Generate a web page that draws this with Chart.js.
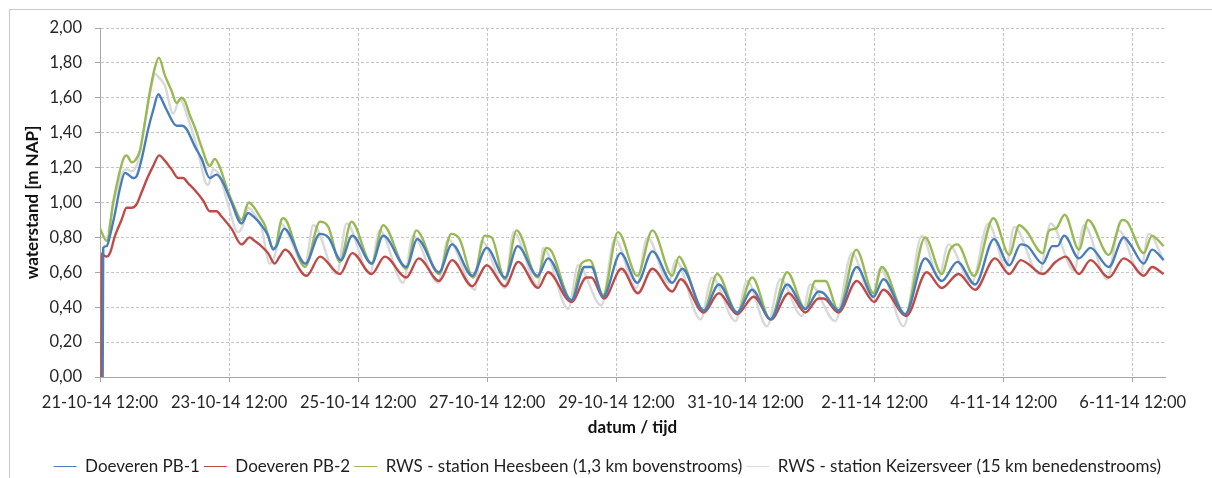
<!DOCTYPE html>
<html>
<head>
<meta charset="utf-8">
<title>waterstand Doeveren</title>
<script src="https://cdn.jsdelivr.net/npm/chart.js@4.4.1/dist/chart.umd.min.js"></script>
<style>
    html, body { margin: 0; padding: 0; background: #fff; overflow: hidden; }
    #frame { position: absolute; left: 9px; top: 9px; width: 1230px; height: 500px; border: 1px solid #c8c8c8; }
    #chart { position: absolute; left: 0; top: 0; }
</style>
</head>
<body>
<div id="frame"></div>
<canvas id="chart" width="1212" height="485"></canvas>
<script>
// x = uren sinds 21-10-14 12:00, y = waterstand [m NAP]
const xTickHours = [0, 48, 96, 144, 192, 240, 288, 336, 384];
const xTickLabels = ['21-10-14 12:00', '23-10-14 12:00', '25-10-14 12:00', '27-10-14 12:00', '29-10-14 12:00',
                     '31-10-14 12:00', '2-11-14 12:00', '4-11-14 12:00', '6-11-14 12:00'];
const yTickValues = [0, 0.2, 0.4, 0.6, 0.8, 1.0, 1.2, 1.4, 1.6, 1.8, 2.0];

const doeveren1 = [
    [1.0, 0], [1.2, 0.74], [2.5, 0.75], [3.7, 0.81], [5.6, 0.94], [7.4, 1.08], [9.3, 1.17], [10.5, 1.16],
    [12.4, 1.14], [13.6, 1.15], [15.5, 1.25], [17.9, 1.42], [19.8, 1.53], [21.7, 1.62], [22.3, 1.61],
    [24.8, 1.53], [28.5, 1.44], [30.6, 1.44], [32.2, 1.42], [35.3, 1.32], [37.8, 1.25], [40.8, 1.14],
    [43.3, 1.16], [45.2, 1.13], [48.9, 1.00], [52.6, 0.88], [55.1, 0.94], [57.0, 0.92], [60.0, 0.87],
    [62.5, 0.81], [64.4, 0.73], [65.6, 0.75], [68.5, 0.85], [76.4, 0.65], [81.8, 0.82], [84.9, 0.80],
    [89.6, 0.67], [93.8, 0.81], [101.0, 0.65], [105.3, 0.81], [113.9, 0.63], [118.0, 0.79], [126.0, 0.60],
    [130.9, 0.76], [138.4, 0.58], [143.8, 0.74], [150.6, 0.57], [155.3, 0.75], [162.7, 0.58], [166.6, 0.68],
    [175.3, 0.44], [180.2, 0.63], [182.7, 0.63], [187.1, 0.46], [193.6, 0.71], [199.8, 0.54], [205.4, 0.72],
    [212.8, 0.54], [216.5, 0.62], [224.5, 0.38], [230.1, 0.53], [236.9, 0.37], [242.5, 0.50], [249.3, 0.33],
    [255.5, 0.53], [262.3, 0.39], [267.2, 0.49], [269.1, 0.48], [274.6, 0.38], [281.4, 0.63], [287.6, 0.46],
    [291.3, 0.56], [299.4, 0.36], [306.8, 0.68], [313.0, 0.55], [318.8, 0.66], [325.4, 0.53], [332.4, 0.79],
    [338.1, 0.64], [342.4, 0.76], [344.9, 0.75], [350.5, 0.65], [354.1, 0.75], [356.0, 0.75], [358.5, 0.81],
    [364.0, 0.68], [368.3, 0.74], [375.1, 0.63], [380.7, 0.80], [383.1, 0.76], [388.1, 0.65], [391.2, 0.73],
    [395.5, 0.67]
];

const doeveren2 = [
    [0.5, 0], [0.7, 0.71], [1.2, 0.70], [2.5, 0.69], [3.7, 0.71], [5.6, 0.81], [8.0, 0.90], [9.9, 0.97],
    [11.8, 0.97], [13.6, 0.99], [15.5, 1.06], [17.9, 1.15], [19.8, 1.21], [22.0, 1.27], [24.1, 1.24],
    [26.6, 1.19], [29.1, 1.14], [30.9, 1.14], [32.8, 1.11], [35.3, 1.07], [38.4, 1.01], [40.8, 0.95],
    [43.3, 0.95], [45.2, 0.92], [48.9, 0.85], [52.6, 0.76], [55.7, 0.80], [57.5, 0.78], [60.0, 0.75],
    [62.5, 0.71], [64.9, 0.65], [66.8, 0.69], [68.8, 0.73], [76.8, 0.58], [81.8, 0.69], [89.2, 0.59],
    [93.8, 0.71], [101.0, 0.59], [105.9, 0.69], [113.9, 0.57], [118.5, 0.68], [126.1, 0.55], [130.9, 0.67],
    [138.4, 0.52], [143.8, 0.64], [150.6, 0.52], [155.5, 0.66], [162.9, 0.51], [166.6, 0.60], [175.3, 0.43],
    [180.9, 0.57], [182.7, 0.57], [187.4, 0.45], [193.9, 0.62], [200.0, 0.48], [205.4, 0.62], [212.8, 0.49],
    [215.9, 0.56], [224.5, 0.37], [230.1, 0.48], [236.9, 0.36], [243.1, 0.46], [249.5, 0.33], [256.1, 0.48],
    [262.3, 0.37], [267.2, 0.45], [269.1, 0.45], [274.6, 0.37], [281.4, 0.55], [287.9, 0.43], [291.3, 0.50],
    [299.8, 0.35], [307.4, 0.60], [313.0, 0.51], [319.2, 0.59], [325.4, 0.50], [332.8, 0.68], [338.1, 0.59],
    [342.4, 0.67], [344.9, 0.65], [350.5, 0.59], [355.4, 0.66], [359.1, 0.69], [364.0, 0.59], [368.3, 0.67],
    [375.1, 0.57], [380.7, 0.68], [383.1, 0.66], [388.1, 0.58], [391.2, 0.63], [395.5, 0.59]
];

const heesbeen = [
    [0, 0.85], [2.5, 0.78], [5.0, 1.01], [8.7, 1.25], [9.9, 1.27], [11.8, 1.23], [13.0, 1.24], [14.9, 1.30],
    [16.7, 1.46], [18.6, 1.64], [20.2, 1.76], [21.9, 1.83], [24.1, 1.73], [26.6, 1.64], [28.5, 1.57],
    [30.3, 1.60], [31.6, 1.58], [33.4, 1.50], [35.3, 1.43], [37.7, 1.32], [40.8, 1.21], [42.7, 1.25],
    [44.6, 1.20], [47.0, 1.09], [50.1, 0.97], [52.6, 0.90], [55.3, 1.00], [56.9, 0.98], [59.4, 0.92],
    [61.3, 0.87], [64.4, 0.74], [65.0, 0.74], [67.4, 0.90], [68.2, 0.91], [76.2, 0.63], [81.8, 0.89],
    [84.9, 0.86], [89.2, 0.66], [93.5, 0.89], [101.0, 0.65], [105.3, 0.87], [113.9, 0.62], [117.6, 0.84],
    [126.1, 0.59], [130.6, 0.82], [133.7, 0.79], [138.8, 0.57], [143.1, 0.81], [145.6, 0.80], [150.6, 0.56],
    [154.9, 0.84], [162.7, 0.57], [166.0, 0.74], [167.9, 0.72], [175.3, 0.44], [179.0, 0.65], [182.1, 0.67],
    [187.1, 0.47], [192.6, 0.83], [199.8, 0.58], [205.4, 0.84], [212.8, 0.58], [215.3, 0.69], [217.1, 0.65],
    [224.5, 0.38], [229.5, 0.59], [236.9, 0.37], [242.5, 0.57], [249.3, 0.33], [255.5, 0.60], [262.3, 0.39],
    [266.0, 0.55], [269.7, 0.55], [274.6, 0.38], [281.2, 0.73], [287.6, 0.48], [290.7, 0.63], [299.4, 0.36],
    [306.8, 0.80], [313.0, 0.59], [316.1, 0.73], [318.8, 0.76], [325.0, 0.58], [332.2, 0.91], [338.1, 0.70],
    [341.8, 0.87], [344.3, 0.84], [350.5, 0.71], [352.9, 0.84], [355.4, 0.85], [358.7, 0.93], [364.0, 0.73],
    [367.4, 0.90], [375.1, 0.70], [380.1, 0.90], [381.9, 0.89], [388.1, 0.71], [391.2, 0.81], [393.0, 0.79],
    [395.5, 0.75]
];

const keizersveer = [
    [3.1, 0.83], [5.0, 0.99], [8.0, 1.16], [9.9, 1.19], [11.8, 1.18], [14.2, 1.24], [16.7, 1.46], [19.2, 1.67],
    [20.4, 1.74], [21.7, 1.72], [24.1, 1.67], [27.2, 1.51], [29.7, 1.59], [32.8, 1.48], [36.5, 1.29],
    [38.9, 1.13], [40.2, 1.10], [42.1, 1.19], [44.6, 1.15], [47.6, 0.99], [51.3, 0.83], [53.2, 0.87],
    [55.1, 0.97], [57.5, 0.93], [60.0, 0.86], [63.1, 0.65], [65.6, 0.73], [67.0, 0.88], [76.2, 0.64],
    [79.3, 0.87], [88.0, 0.59], [91.7, 0.88], [100.3, 0.59], [104.0, 0.84], [112.7, 0.54], [116.4, 0.81],
    [125.7, 0.54], [129.4, 0.79], [139.4, 0.50], [141.9, 0.78], [150.6, 0.51], [153.7, 0.83], [162.9, 0.52],
    [164.8, 0.74], [174.1, 0.39], [177.8, 0.64], [186.4, 0.41], [191.4, 0.79], [199.4, 0.51], [203.5, 0.80],
    [211.5, 0.54], [214.0, 0.67], [223.3, 0.33], [227.6, 0.57], [236.3, 0.32], [240.6, 0.55], [248.0, 0.29],
    [253.0, 0.56], [261.0, 0.35], [264.1, 0.53], [273.4, 0.32], [279.6, 0.71], [287.0, 0.45], [290.1, 0.62],
    [298.8, 0.29], [305.6, 0.81], [311.8, 0.57], [315.5, 0.76], [324.1, 0.54], [330.3, 0.88], [336.9, 0.63],
    [339.9, 0.86], [349.2, 0.59], [353.5, 0.88], [362.2, 0.61], [365.9, 0.87], [374.5, 0.56], [378.8, 0.84],
    [386.8, 0.59], [389.9, 0.82], [395.5, 0.67]
];

const toXY = rows => rows.map(([h, v]) => ({ x: h, y: v }));

Chart.defaults.font.family = 'Lato, "Open Sans", sans-serif';
Chart.defaults.color = '#404040';

const axisGrey = '#a6a6a6';
const gridGrey = '#c4c4c4';

new Chart(document.getElementById('chart'), {
    type: 'line',
    data: {
        datasets: [
            { label: 'Doeveren PB-1', data: toXY(doeveren1), borderColor: '#4a7ebb' },
            { label: 'Doeveren PB-2', data: toXY(doeveren2), borderColor: '#be4b48' },
            { label: 'RWS - station Heesbeen (1,3 km bovenstrooms)', data: toXY(heesbeen), borderColor: '#98b954' },
            { label: 'RWS - station Keizersveer (15 km benedenstrooms)', data: toXY(keizersveer), borderColor: '#d9d9d9' }
        ]
    },
    options: {
        responsive: false,
        animation: false,
        layout: { padding: { top: 28, right: 47, left: 0, bottom: 0 } },
        elements: {
            point: { radius: 0 },
            line: { borderWidth: 2.4, cubicInterpolationMode: 'monotone', fill: false }
        },
        plugins: {
            tooltip: { enabled: false },
            legend: {
                position: 'bottom',
                align: 'end',
                labels: {
                    usePointStyle: true,
                    pointStyle: 'line',
                    pointStyleWidth: 23,
                    padding: 4,
                    color: '#1f1f1f',
                    font: { size: 17 }
                }
            }
        },
        scales: {
            x: {
                type: 'linear',
                min: 0,
                max: 396,
                afterBuildTicks: scale => { scale.ticks = xTickHours.map(v => ({ value: v })); },
                afterFit: scale => { scale.height = 77; },
                ticks: {
                    autoSkip: false,
                    maxRotation: 0,
                    padding: 11,
                    color: '#262626',
                    font: { size: 16.5 },
                    callback: value => xTickLabels[xTickHours.indexOf(value)]
                },
                grid: { color: gridGrey, tickLength: 5, tickColor: axisGrey },
                border: { color: axisGrey, dash: [3, 2] },
                title: {
                    display: true,
                    text: 'datum / tijd',
                    color: '#111',
                    font: { size: 17, weight: 'bold' },
                    padding: { top: 0, bottom: 16 }
                }
            },
            y: {
                min: 0,
                max: 2,
                afterBuildTicks: scale => { scale.ticks = yTickValues.map(v => ({ value: v })); },
                afterFit: scale => { scale.width = 100; },
                ticks: {
                    padding: 13,
                    color: '#262626',
                    font: { size: 16.5 },
                    callback: value => value.toFixed(2).replace('.', ',')
                },
                grid: { color: gridGrey, tickLength: 5, tickColor: axisGrey },
                border: { color: axisGrey, dash: [3, 2] },
                title: {
                    display: true,
                    text: 'waterstand [m NAP]',
                    color: '#111',
                    font: { size: 17, weight: 'bold' },
                    padding: { top: 22, bottom: 0 }
                }
            }
        }
    }
});
</script>
</body>
</html>
